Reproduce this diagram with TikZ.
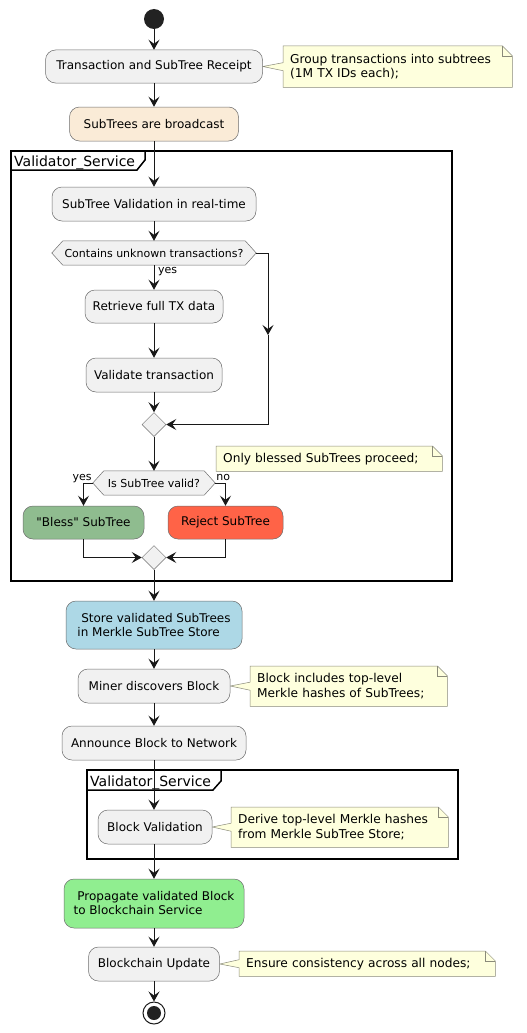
\documentclass[tikz,border=0pt]{standalone}
\usepackage{fontspec}
\setmainfont{DejaVu Sans}
\usetikzlibrary{arrows.meta,shapes.geometric,backgrounds,calc}

\definecolor{boxfill}{HTML}{F1F1F1}
\definecolor{boxline}{HTML}{6E6E6E}
\definecolor{lineclr}{HTML}{181818}
\definecolor{dotclr}{HTML}{222222}
\definecolor{notefill}{HTML}{FEFFDD}
\definecolor{noteline}{HTML}{8A8A7A}
\definecolor{bcastfill}{HTML}{FAEBD7}
\definecolor{blessfill}{HTML}{8FBC8F}
\definecolor{rejectfill}{HTML}{FF6347}
\definecolor{storefill}{HTML}{ADD8E6}
\definecolor{propfill}{HTML}{90EE90}

\tikzset{
  act/.style={rectangle, rounded corners=10pt, draw=boxline, line width=0.5pt,
    fill=boxfill, inner sep=0pt, font=\fontsize{12}{14}\selectfont, align=center},
  flow/.style={draw=lineclr, line width=1pt,
    -{Stealth[length=10pt,width=11pt,inset=4pt]}},
  plainline/.style={draw=lineclr, line width=1pt},
  merge/.style={diamond, draw=boxline, fill=boxfill, line width=0.5pt,
    minimum width=24pt, minimum height=24pt, inner sep=0pt},
  hexlabel/.style={rectangle, inner sep=0pt, minimum height=24pt,
    font=\fontsize{11}{13}\selectfont},
  hexshape/.style={draw=boxline, fill=boxfill, line width=0.5pt},
  notetext/.style={rectangle, inner xsep=7pt, inner ysep=0pt, anchor=north west,
    align=left, font=\fontsize{12.2}{14.5}\selectfont},
  noteshape/.style={draw=noteline, fill=notefill, line width=0.5pt},
  branchlbl/.style={font=\fontsize{11}{12}\selectfont, inner sep=0pt},
  frameline/.style={draw=black, line width=1.5pt},
  frametitle/.style={font=\fontsize{14}{16}\selectfont, inner sep=0pt, anchor=base west},
}

% note outline with folded corner and a wedge pointing at #2
\newcommand\drawnote[2]{%
  \begin{scope}[on background layer]
    \path[noteshape] (#1.north west) -- ([xshift=-10pt]#1.north east)
      -- ([yshift=-10pt]#1.north east) -- (#1.south east) -- (#1.south west)
      -- ([yshift=-4pt]#1.west) -- (#2) -- ([yshift=4pt]#1.west) -- cycle;
    \draw[noteline, line width=0.5pt] ([xshift=-10pt]#1.north east)
      |- ([yshift=-10pt]#1.north east);
  \end{scope}}
% note outline with folded corner only
\newcommand\drawplainnote[1]{%
  \begin{scope}[on background layer]
    \path[noteshape] (#1.north west) -- ([xshift=-10pt]#1.north east)
      -- ([yshift=-10pt]#1.north east) -- (#1.south east) -- (#1.south west) -- cycle;
    \draw[noteline, line width=0.5pt] ([xshift=-10pt]#1.north east)
      |- ([yshift=-10pt]#1.north east);
  \end{scope}}
% hexagonal decision outline around a label node
\newcommand\drawhex[1]{%
  \begin{scope}[on background layer]
    \path[hexshape] (#1.west) -- ([xshift=11pt]#1.north west)
      -- ([xshift=-11pt]#1.north east) -- (#1.east)
      -- ([xshift=-11pt]#1.south east) -- ([xshift=11pt]#1.south west) -- cycle;
  \end{scope}}

\begin{document}
\begin{tikzpicture}[x=1pt, y=-1pt]
\begin{scope}[on background layer]
  \fill[white] (0,0) rectangle (527,1033);
\end{scope}
\useasboundingbox (0,0) rectangle (527,1033);

% ---- frames ----
\draw[frameline] (11,151) rectangle (452,581);
\draw[frameline] (11,170) -- (137,170) -- (145,160) -- (145,151);
\node[frametitle] (f1title) at (14,166) {Validator\_Service};

\draw[frameline] (87,770) rectangle (458,859);
\draw[frameline] (87,790) -- (213,790) -- (221,781) -- (221,770);
\node[frametitle] (f2title) at (90,786) {Validator\_Service};

% ---- activities ----
\node[circle, fill=dotclr, minimum size=20pt, inner sep=0pt] (start) at (154,19) {};

\node[act, minimum width=217pt, minimum height=33pt] (recv) at (154,66.5)
  {Transaction and SubTree Receipt};
\node[notetext, text width=215pt, minimum height=41pt] (n1) at (283,46)
  {Group transactions into subtrees\\(1M TX IDs each);};
\drawnote{n1}{recv.east}

\node[act, fill=bcastfill, minimum width=169pt, minimum height=34pt] (bcast) at (154,124)
  {SubTrees are broadcast};

\node[act, minimum width=204pt, minimum height=34pt] (stv) at (154,204)
  {SubTree Validation in real-time};

\node[hexlabel, minimum width=204pt] (q1) at (154,253) {Contains unknown transactions?};
\drawhex{q1}

\node[act, minimum width=138pt, minimum height=33pt] (retr) at (154,306.5)
  {Retrieve full TX data};
\node[act, minimum width=136pt, minimum height=34pt] (valtx) at (154,375)
  {Validate transaction};

\node[merge] (m1) at (154,424.5) {};

\node[hexlabel, minimum width=122pt] (q2) at (154,483) {Is SubTree valid?};
\drawhex{q2}

\node[notetext, text width=212pt, minimum height=25pt] (n2) at (216,446)
  {Only blessed SubTrees proceed;};
\drawplainnote{n2}

\node[act, fill=blessfill, minimum width=121pt, minimum height=33pt] (bless) at (83.5,522.5)
  {\textquotedbl Bless\textquotedbl{} SubTree};
\node[act, fill=rejectfill, minimum width=115pt, minimum height=33pt] (reject) at (225.5,522.5)
  {Reject SubTree};

\node[merge] (m2) at (154,557.5) {};

\node[act, fill=storefill, minimum width=176pt, minimum height=48pt, align=left] (store) at (154,625)
  {~Store validated SubTrees\\in Merkle SubTree Store};

\node[act, minimum width=152pt, minimum height=34pt] (miner) at (154,686)
  {Miner discovers Block};
\node[notetext, text width=183pt, minimum height=40pt] (n3) at (250,666)
  {Block includes top-level\\Merkle hashes of SubTrees;};
\drawnote{n3}{miner.east}

\node[act, minimum width=184pt, minimum height=34pt] (announce) at (154,743)
  {Announce Block to Network};

\node[act, minimum width=114pt, minimum height=34pt] (bval) at (155,827)
  {Block Validation};
\node[notetext, text width=203pt, minimum height=40pt] (n4) at (231,807)
  {Derive top-level Merkle hashes\\from Merkle SubTree Store;};
\drawnote{n4}{bval.east}

\node[act, fill=propfill, minimum width=180pt, minimum height=49pt, align=left] (prop) at (154,903.5)
  {~Propagate validated Block\\to Blockchain Service};

\node[act, minimum width=131pt, minimum height=34pt] (bcu) at (154,964)
  {Blockchain Update};
\node[notetext, text width=242pt, minimum height=25pt] (n5) at (239,951)
  {Ensure consistency across all nodes;};
\drawnote{n5}{bcu.east}

\node[circle, draw=lineclr, line width=1pt, fill=white, minimum size=22pt, inner sep=0pt] (stop) at (154,1013) {};
\node[circle, fill=dotclr, minimum size=14pt, inner sep=0pt] (stopdot) at (stop) {};

% ---- connectors ----
\draw[flow] (start) -- (recv);
\draw[flow] (recv) -- (bcast);
\draw[flow] (bcast) -- (stv);
\draw[flow] (stv) -- (q1);
\draw[flow] (q1.south) -- (retr.north);
\node[branchlbl, anchor=north west] (yes1) at ([xshift=4pt,yshift=-2pt]q1.south) {yes};
\draw[flow] (retr) -- (valtx);
\draw[flow] (valtx) -- (m1);

\coordinate (r1) at (268,253);
\coordinate (rmid) at (268,335);
\coordinate (r2) at (268,424.5);
\draw[plainline] (q1.east) -- (r1);
\draw[flow] (r1) -- (rmid);
\draw[flow] (rmid) -- (r2) -- (m1.east);

\draw[flow] (m1) -- (q2);
\draw[flow] (q2.west) -| (bless.north);
\node[branchlbl, anchor=base east] (yes2) at ([xshift=-1pt,yshift=3pt]q2.west) {yes};
\draw[flow] (q2.east) -| (reject.north);
\node[branchlbl, anchor=base west] (no2) at ([xshift=1pt,yshift=3pt]q2.east) {no};

\draw[flow] (bless.south) |- (m2.west);
\draw[flow] (reject.south) |- (m2.east);

\draw[flow] (m2) -- (store);
\draw[flow] (store) -- (miner);
\draw[flow] (miner) -- (announce);
\draw[flow] (announce.south) -- (announce.south |- bval.north);
\draw[flow] (bval.south -| announce.south) -- (prop.north);
\draw[flow] (prop) -- (bcu);
\draw[flow] (bcu) -- (stop);
\end{tikzpicture}
\end{document}
